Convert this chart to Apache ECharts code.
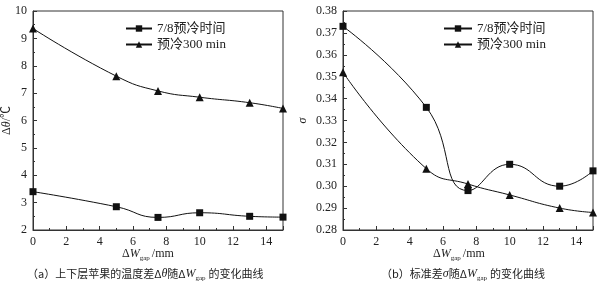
<!DOCTYPE html>
<html>
<head>
<meta charset="utf-8">
<script src="https://cdn.jsdelivr.net/npm/echarts@6/dist/echarts.min.js"></script>
<style>
  html, body { margin: 0; padding: 0; background: #fff; }
  #main { width: 603px; height: 292px; }
</style>
</head>
<body>
<div id="main"></div>
<script>
    // 数据
    var gapX = [0, 5, 7.5, 10, 13, 15];
    var dThetaTime = [3.40, 2.85, 2.46, 2.63, 2.50, 2.47];   // 7/8预冷时间
    var dTheta300 = [9.36, 7.62, 7.08, 6.85, 6.65, 6.44];    // 预冷300 min
    var sigmaTime = [0.373, 0.336, 0.298, 0.310, 0.300, 0.307];
    var sigma300 = [0.352, 0.308, 0.301, 0.296, 0.290, 0.288];
    var nameTime = '7/8预冷时间';
    var name300 = '预冷300 min';

    function pairs(xs, ys) {
        return xs.map(function (x, i) { return [x, ys[i]]; });
    }

    var serif = '"Liberation Serif", "Noto Sans CJK SC", serif';
    var txt = {fontFamily: serif, fontSize: 12, color: '#222'};
    var cjk = '"Noto Sans CJK SC", sans-serif';

    function xAxisOf(idx) {
        return {
            gridIndex: idx, type: 'value', min: 0, max: 15, interval: 2,
            axisLine: {show: true, lineStyle: {color: '#333', width: 1}},
            axisTick: {show: true, inside: true, length: 4, lineStyle: {color: '#333'}},
            minorTick: {show: true, splitNumber: 2, length: 2, lineStyle: {color: '#333'}},
            splitLine: {show: false},
            axisLabel: Object.assign({margin: 6, showMaxLabel: false}, txt)
        };
    }

    function lineSeries(name, xi, ys, sym, size) {
        return {
            name: name, type: 'line', xAxisIndex: xi, yAxisIndex: xi, smooth: 0.5,
            data: pairs(gapX, ys), symbol: sym, symbolSize: size,
            lineStyle: {color: '#111', width: 1}, itemStyle: {color: '#111'}
        };
    }

    function axisTitle(x, y) {
        return {
            type: 'text', left: x, top: y,
            style: {
                text: '{a|Δ}{i|W}{s|gap}{a|/mm}',
                rich: {
                    a: {fontFamily: serif, fontSize: 12, fill: '#222'},
                    i: {fontFamily: serif, fontSize: 12, fontStyle: 'italic', fill: '#222'},
                    s: {fontFamily: serif, fontSize: 7, fill: '#222', padding: [9, 2, 0, 0]}
                }
            }
        };
    }

    var capRich = {
        c: {fontFamily: cjk, fontSize: 11, fill: '#222'},
        i: {fontFamily: serif, fontSize: 12, fontStyle: 'italic', fill: '#222'},
        s: {fontFamily: serif, fontSize: 7, fill: '#222', padding: [9, 3, 0, 0]}
    };

    var chart = echarts.init(document.getElementById('main'));
    var option = {
        backgroundColor: '#fff',
        animation: false,
        grid: [
            {left: 32, width: 251, top: 11, height: 219, show: true, borderColor: '#333', borderWidth: 1},
            {left: 343, width: 250, top: 11, height: 219, show: true, borderColor: '#333', borderWidth: 1}
        ],
        xAxis: [xAxisOf(0), xAxisOf(1)],
        yAxis: [
            {
                gridIndex: 0, type: 'value', min: 2, max: 10, interval: 1,
                axisLine: {show: true, lineStyle: {color: '#333'}},
                axisTick: {show: true, inside: true, length: 4, lineStyle: {color: '#333'}},
                minorTick: {show: true, splitNumber: 2, length: 2, lineStyle: {color: '#333'}},
                splitLine: {show: false},
                axisLabel: Object.assign({margin: 6}, txt),
                name: '{a|Δ}{i|θ}{a|/℃}', nameLocation: 'middle', nameRotate: 90, nameGap: 20,
                nameMoveOverlap: false,
                nameTextStyle: {
                    rich: {
                        a: {fontFamily: serif, fontSize: 12, color: '#222'},
                        i: {fontFamily: serif, fontSize: 12, fontStyle: 'italic', color: '#222'}
                    }
                }
            },
            {
                gridIndex: 1, type: 'value', min: 0.28, max: 0.38, interval: 0.01,
                axisLine: {show: true, lineStyle: {color: '#333'}},
                axisTick: {show: true, inside: true, length: 4, lineStyle: {color: '#333'}},
                minorTick: {show: true, splitNumber: 2, length: 2, lineStyle: {color: '#333'}},
                splitLine: {show: false},
                axisLabel: Object.assign({margin: 6, formatter: function (v) { return v.toFixed(2); }}, txt),
                name: 'σ', nameLocation: 'middle', nameRotate: 90, nameGap: 34,
                nameMoveOverlap: false,
                nameTextStyle: {fontFamily: serif, fontSize: 12, fontStyle: 'italic', color: '#222'}
            }
        ],
        legend: [
            {
                left: 120, top: 17, orient: 'vertical', itemGap: 3, itemWidth: 26, itemHeight: 8,
                data: [nameTime, name300],
                textStyle: {fontFamily: serif, fontSize: 13, color: '#222'}
            },
            {
                left: 438, top: 17, orient: 'vertical', itemGap: 3, itemWidth: 28, itemHeight: 8,
                data: [nameTime, name300],
                textStyle: {fontFamily: serif, fontSize: 13, color: '#222'}
            }
        ],
        series: [
            lineSeries(nameTime, 0, dThetaTime, 'rect', 7),
            lineSeries(name300, 0, dTheta300, 'triangle', 8),
            lineSeries(nameTime, 1, sigmaTime, 'rect', 7),
            lineSeries(name300, 1, sigma300, 'triangle', 8)
        ],
        graphic: [
            axisTitle(122, 248),
            axisTitle(433, 248),
            {
                type: 'text', left: 27, top: 268,
                style: {
                    text: '{c|（a）上下层苹果的温度差Δ}{i|θ}{c|随Δ}{i|W}{s|gap}{c|的变化曲线}',
                    rich: capRich
                }
            },
            {
                type: 'text', left: 381, top: 268,
                style: {
                    text: '{c|（b）标准差}{i|σ}{c|随Δ}{i|W}{s|gap}{c|的变化曲线}',
                    rich: capRich
                }
            }
        ]
    };
    chart.setOption(option);
</script>
</body>
</html>
